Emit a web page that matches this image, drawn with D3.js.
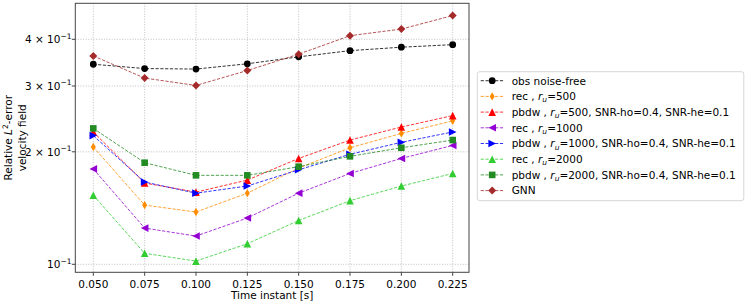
<!DOCTYPE html>
<html>
<head>
<meta charset="utf-8">
<script src="https://cdn.jsdelivr.net/npm/d3@7"></script>
<style>
  body { margin: 0; background: #fff; }
  text { font-family: "DejaVu Sans", sans-serif; fill: #000; }
</style>
</head>
<body>
<script>
// data
var times = [0.05, 0.075, 0.1, 0.125, 0.15, 0.175, 0.2, 0.225];
var xTicks = [0.05, 0.075, 0.1, 0.125, 0.15, 0.175, 0.2, 0.225];
var yTicks = [0.1, 0.2, 0.3, 0.4];
var yTickLabels = [["10", "\u22121"], ["2 \u00d7 10", "\u22121"], ["3 \u00d7 10", "\u22121"], ["4 \u00d7 10", "\u22121"]];

var obsNoiseFree = [0.343, 0.334, 0.333, 0.344, 0.359, 0.373, 0.381, 0.387];
var rec500      = [0.206, 0.144, 0.138, 0.155, 0.181, 0.205, 0.224, 0.242];
var pbdw500     = [0.226, 0.165, 0.156, 0.168, 0.192, 0.215, 0.233, 0.250];
var rec1000     = [0.180, 0.125, 0.119, 0.133, 0.155, 0.175, 0.192, 0.208];
var pbdw1000    = [0.221, 0.166, 0.155, 0.162, 0.179, 0.197, 0.212, 0.226];
var rec2000     = [0.153, 0.107, 0.102, 0.1135, 0.131, 0.148, 0.162, 0.175];
var pbdw2000    = [0.231, 0.187, 0.173, 0.173, 0.1825, 0.1945, 0.205, 0.215];
var gnn         = [0.361, 0.315, 0.301, 0.330, 0.365, 0.409, 0.426, 0.463];

var series = [
  { label: ["obs noise-free"], values: obsNoiseFree, color: "#000000", marker: "o" },
  { label: ["rec , ", "500"], values: rec500, color: "#ff8c00", marker: "d" },
  { label: ["pbdw , ", "500", ", SNR-ho=0.4, SNR-he=0.1"], values: pbdw500, color: "#ff0000", marker: "^" },
  { label: ["rec , ", "1000"], values: rec1000, color: "#9400d3", marker: "<" },
  { label: ["pbdw , ", "1000", ", SNR-ho=0.4, SNR-he=0.1"], values: pbdw1000, color: "#0000ff", marker: ">" },
  { label: ["rec , ", "2000"], values: rec2000, color: "#32cd32", marker: "^" },
  { label: ["pbdw , ", "2000", ", SNR-ho=0.4, SNR-he=0.1"], values: pbdw2000, color: "#228b22", marker: "s" },
  { label: ["GNN"], values: gnn, color: "#a52a2a", marker: "D" }
];

var W = 748, H = 302;
var plot = { left: 75.3, top: 3.3, right: 469, bottom: 272.3 };

var svg = d3.select("body").append("svg")
    .attr("width", W)
    .attr("height", H);

var x = d3.scaleLinear().domain([0.05, 0.225]).range([93.3, 452.7]);
var y = d3.scaleLog().domain([0.1, 0.4]).range([264.3, 39.3]);

function markerPath(m) {
  var p = d3.path();
  if (m === "o") { p.arc(0, 0, 3.4, 0, 2 * Math.PI); }
  else if (m === "d") { p.moveTo(0, -4.2); p.lineTo(2.5, 0); p.lineTo(0, 4.2); p.lineTo(-2.5, 0); }
  else if (m === "D") { p.moveTo(0, -4); p.lineTo(4, 0); p.lineTo(0, 4); p.lineTo(-4, 0); }
  else if (m === "s") { p.rect(-3.3, -3.3, 6.6, 6.6); }
  else if (m === "^") { p.moveTo(0, -3.8); p.lineTo(3.8, 3.8); p.lineTo(-3.8, 3.8); }
  else if (m === "<") { p.moveTo(-3.8, 0); p.lineTo(3.8, -3.8); p.lineTo(3.8, 3.8); }
  else if (m === ">") { p.moveTo(3.8, 0); p.lineTo(-3.8, -3.8); p.lineTo(-3.8, 3.8); }
  p.closePath();
  return p.toString();
}

// grid
var grid = svg.append("g").attr("stroke", "#b0b0b0").attr("stroke-width", 0.8).attr("stroke-dasharray", "1,1.6");
grid.selectAll(".gx").data(xTicks).enter().append("line")
    .attr("x1", function(d) { return x(d); }).attr("x2", function(d) { return x(d); })
    .attr("y1", plot.top).attr("y2", plot.bottom);
grid.selectAll(".gy").data(yTicks).enter().append("line")
    .attr("x1", plot.left).attr("x2", plot.right)
    .attr("y1", function(d) { return y(d); }).attr("y2", function(d) { return y(d); });

// lines + markers
var line = d3.line()
    .x(function(d, i) { return x(times[i]); })
    .y(function(d) { return y(d); });

series.forEach(function(s) {
  var g = svg.append("g");
  g.append("path")
      .datum(s.values)
      .attr("d", line)
      .attr("fill", "none")
      .attr("stroke", s.color)
      .attr("stroke-opacity", 0.8)
      .attr("stroke-width", 1)
      .attr("stroke-dasharray", "3.2,1.6");
  g.selectAll("path.m").data(s.values).enter().append("path")
      .attr("class", "m")
      .attr("d", markerPath(s.marker))
      .attr("transform", function(d, i) { return "translate(" + x(times[i]) + "," + y(d) + ")"; })
      .attr("fill", s.color);
});

// frame
svg.append("rect")
    .attr("x", plot.left).attr("y", plot.top)
    .attr("width", plot.right - plot.left).attr("height", plot.bottom - plot.top)
    .attr("fill", "none").attr("stroke", "#444").attr("stroke-width", 1);

// x ticks
var xt = svg.append("g");
xt.selectAll("line").data(xTicks).enter().append("line")
    .attr("x1", function(d) { return x(d); }).attr("x2", function(d) { return x(d); })
    .attr("y1", plot.bottom).attr("y2", plot.bottom + 3.5)
    .attr("stroke", "#444");
xt.selectAll("text").data(xTicks).enter().append("text")
    .attr("x", function(d) { return x(d); })
    .attr("y", 287.5)
    .attr("text-anchor", "middle")
    .attr("font-size", "10.5px")
    .text(function(d) { return d3.format(".3f")(d); });

// y ticks
var yt = svg.append("g");
yt.selectAll("line").data(yTicks).enter().append("line")
    .attr("x1", plot.left - 3.5).attr("x2", plot.left)
    .attr("y1", function(d) { return y(d); }).attr("y2", function(d) { return y(d); })
    .attr("stroke", "#444");
yt.selectAll("text").data(yTicks).enter().append("text")
    .attr("x", 71.5)
    .attr("y", function(d) { return y(d) + 4; })
    .attr("text-anchor", "end")
    .attr("font-size", "10.5px")
    .each(function(d, i) {
      var t = d3.select(this);
      t.append("tspan").text(yTickLabels[i][0]);
      t.append("tspan").attr("dy", -4.5).attr("font-size", "7.5px").text(yTickLabels[i][1]);
    });

// axis labels
svg.append("text")
    .attr("x", (plot.left + plot.right) / 2)
    .attr("y", 298.5)
    .attr("text-anchor", "middle")
    .attr("font-size", "10.5px")
    .text("Time instant [s]");

var yl = svg.append("text")
    .attr("transform", "translate(12," + ((plot.top + plot.bottom) / 2) + ") rotate(-90)")
    .attr("text-anchor", "middle")
    .attr("font-size", "10.5px");
yl.append("tspan").text("Relative ");
yl.append("tspan").attr("font-style", "italic").text("L");
yl.append("tspan").attr("dy", -4.5).attr("font-size", "7.5px").text("2");
yl.append("tspan").attr("dy", 4.5).text("-error");
svg.append("text")
    .attr("transform", "translate(25.5," + ((plot.top + plot.bottom) / 2) + ") rotate(-90)")
    .attr("text-anchor", "middle")
    .attr("font-size", "10.5px")
    .text("velocity field");

// legend
var lg = svg.append("g");
lg.append("rect")
    .attr("x", 477.3).attr("y", 71.7)
    .attr("width", 266.5).attr("height", 129)
    .attr("rx", 2.5)
    .attr("fill", "#fff").attr("stroke", "#d6d6d6").attr("stroke-width", 1);

var rows = lg.selectAll("g.row").data(series).enter().append("g")
    .attr("class", "row")
    .attr("transform", function(d, i) { return "translate(0," + (80.7 + i * 15.7) + ")"; });
rows.append("line")
    .attr("x1", 480.7).attr("x2", 503.5)
    .attr("y1", 0).attr("y2", 0)
    .attr("stroke", function(d) { return d.color; })
    .attr("stroke-opacity", 0.8)
    .attr("stroke-dasharray", "3.2,1.6");
rows.append("path")
    .attr("d", function(d) { return markerPath(d.marker); })
    .attr("transform", "translate(492.2,0)")
    .attr("fill", function(d) { return d.color; });
rows.append("text")
    .attr("x", 511.7)
    .attr("y", 3.8)
    .attr("font-size", "10.5px")
    .each(function(d) {
      var t = d3.select(this);
      t.append("tspan").text(d.label[0]);
      if (d.label.length > 1) {
        t.append("tspan").attr("font-style", "italic").text("r");
        t.append("tspan").attr("font-style", "italic").attr("font-size", "7.5px").attr("dy", 2.2).text("u");
        t.append("tspan").attr("dy", -2.2).text("=" + d.label[1] + (d.label[2] || ""));
      }
    });
</script>
</body>
</html>
